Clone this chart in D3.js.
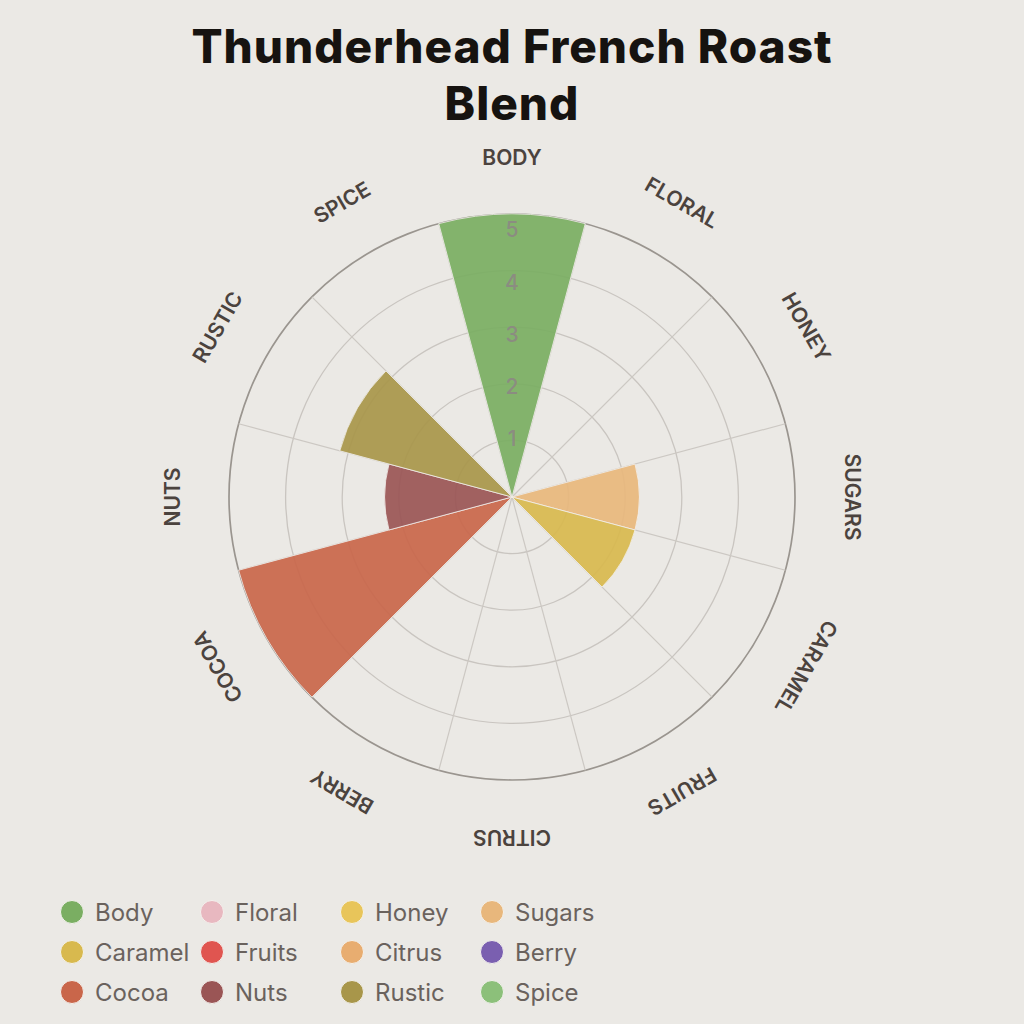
<!DOCTYPE html>
<html>
<head>
<meta charset="utf-8">
<script src="https://cdn.jsdelivr.net/npm/d3@7"></script>
<style>
  html, body { margin: 0; padding: 0; background: #ebe9e5; }
  svg { display: block; }
</style>
</head>
<body>
<div id="chart"></div>
<script>
var categories = ["Body", "Floral", "Honey", "Sugars", "Caramel", "Fruits", "Citrus", "Berry", "Cocoa", "Nuts", "Rustic", "Spice"];
var values = [5, 0, 0, 2.25, 2.25, 0, 0, 0, 5, 2.25, 3.15, 0];
var colors = ["#7aae62", "#e8b8c0", "#e8c55a", "#e8b77c", "#d8b94e", "#e05550", "#e8ad70", "#7a5fb0", "#c9664a", "#9a5555", "#a8964a", "#8cc07a"];
var ticks = [1, 2, 3, 4, 5];
var title = ["Thunderhead French Roast", "Blend"];

var width = 1024, height = 1024;
var cx = 512, cy = 497, R = 283;

var svg = d3.select("#chart")
  .append("svg")
  .attr("width", width)
  .attr("height", height);

svg.append("rect")
  .attr("width", width)
  .attr("height", height)
  .attr("fill", "#ebe9e5");

// title, one text block with two lines
svg.append("text")
  .attr("class", "title")
  .attr("text-anchor", "middle")
  .style("font-family", "Inter, 'DejaVu Sans', sans-serif")
  .style("font-weight", 800)
  .style("font-size", "46px")
  .style("letter-spacing", "1px")
  .attr("fill", "#161310")
  .selectAll("tspan")
  .data(title)
  .enter().append("tspan")
  .attr("x", width / 2)
  .attr("y", function(d, i) { return 63 + i * 57; })
  .text(function(d) { return d; });

var r = d3.scaleLinear()
  .domain([0, 5])
  .range([0, R]);

var step = 2 * Math.PI / categories.length;

var g = svg.append("g")
  .attr("transform", "translate(" + cx + "," + cy + ")");

// grid rings
g.selectAll(".ring")
  .data(ticks)
  .enter().append("circle")
  .attr("class", "ring")
  .attr("r", function(d) { return r(d); })
  .attr("fill", "none")
  .attr("stroke", function(d) { return d == 5 ? "#9a958f" : "#c9c5c0"; })
  .attr("stroke-width", function(d) { return d == 5 ? 1.7 : 1.3; });

// spokes at wedge boundaries
g.selectAll(".spoke")
  .data(categories)
  .enter().append("line")
  .attr("class", "spoke")
  .attr("x1", 0).attr("y1", 0)
  .attr("x2", function(d, i) { return r(5) * Math.sin(i * step + step / 2); })
  .attr("y2", function(d, i) { return -r(5) * Math.cos(i * step + step / 2); })
  .attr("stroke", "#ccc8c3")
  .attr("stroke-width", 1.2);

var arc = d3.arc()
  .innerRadius(0)
  .outerRadius(function(d) { return r(d.value); })
  .startAngle(function(d) { return d.i * step - step / 2; })
  .endAngle(function(d) { return d.i * step + step / 2; });

var wedges = categories.map(function(c, i) { return {name: c, value: values[i], i: i}; });

g.selectAll(".wedge")
  .data(wedges.filter(function(d) { return d.value > 0; }))
  .enter().append("path")
  .attr("class", "wedge")
  .attr("d", arc)
  .attr("fill", function(d) { return colors[d.i]; })
  .attr("fill-opacity", 0.92)
  .attr("stroke", "#f2f0ec")
  .attr("stroke-width", 0.8);

// tick labels
g.selectAll(".tick")
  .data(ticks)
  .enter().append("text")
  .attr("class", "tick")
  .attr("x", 0)
  .attr("y", function(d) { return -(r(d) * 0.923 + 6); })
  .attr("text-anchor", "middle")
  .attr("dominant-baseline", "central")
  .style("font-family", "Inter, sans-serif")
  .style("font-weight", 500)
  .style("font-size", "21px")
  .attr("fill", "#8d8784")
  .attr("fill-opacity", 0.9)
  .text(function(d) { return d; });

// category labels
g.selectAll(".cat")
  .data(categories)
  .enter().append("text")
  .attr("class", "cat")
  .attr("transform", function(d, i) { return "rotate(" + (i * 30) + ") translate(0," + (-340) + ")"; })
  .attr("text-anchor", "middle")
  .attr("dominant-baseline", "central")
  .style("font-family", "Inter, sans-serif")
  .style("font-weight", 600)
  .style("font-size", "21px")
  .attr("fill", "#4b433e")
  .text(function(d) { return d.toUpperCase(); });

// legend
var legend = svg.append("g")
  .selectAll("g")
  .data(categories)
  .enter().append("g")
  .attr("transform", function(d, i) { return "translate(" + (72 + (i % 4) * 140) + "," + (912 + Math.floor(i / 4) * 40) + ")"; });

legend.append("circle")
  .attr("r", 11.5)
  .attr("fill", function(d, i) { return colors[i]; })
  .attr("stroke", "#f4f2ee")
  .attr("stroke-width", 1);

legend.append("text")
  .attr("x", 23)
  .attr("y", 0)
  .attr("dominant-baseline", "central")
  .style("font-family", "Inter, sans-serif")
  .style("font-size", "24px")
  .attr("fill", "#6a625d")
  .text(function(d) { return d; });
</script>
</body>
</html>
